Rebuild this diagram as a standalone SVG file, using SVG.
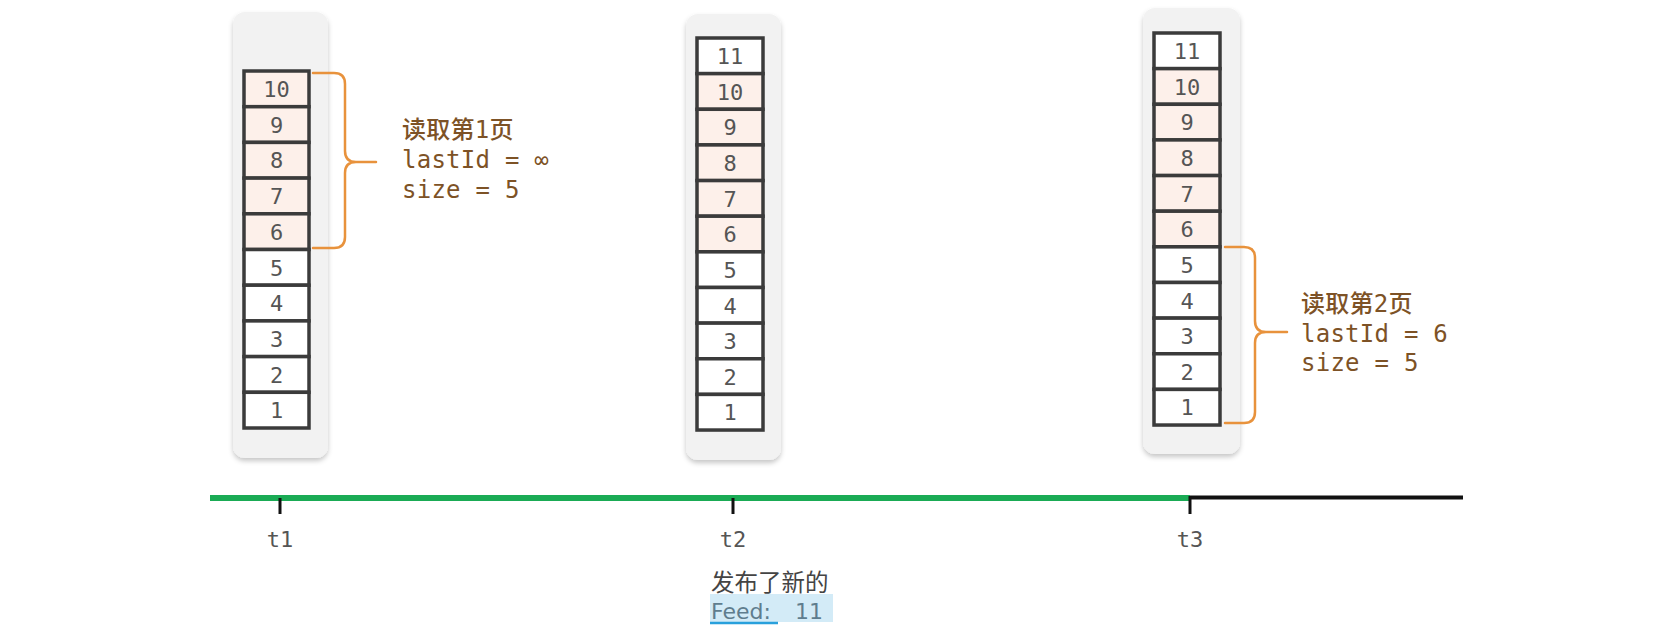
<svg xmlns="http://www.w3.org/2000/svg" width="1676" height="640" viewBox="0 0 1676 640">
<style>
.panel{fill:#f2f2f2;filter:url(#sh)}
.cell{fill:#ffffff;stroke:#3b3b3b;stroke-width:3.5}
.cell.hl{fill:#fdf0ea}
.num{font-family:"DejaVu Sans Mono",monospace;font-size:22px;fill:#555;text-anchor:middle}
.brace{fill:none;stroke:#e8923c;stroke-width:2.5;stroke-linecap:round;stroke-linejoin:round}
.lbl{font-family:"DejaVu Sans Mono","Noto Sans CJK SC",monospace;font-size:24px;fill:#7d5226;letter-spacing:0.25px}
.cjk{font-weight:500}
.tl{font-family:"DejaVu Sans Mono",monospace;font-size:22px;fill:#555;text-anchor:middle}
.tick{stroke:#111;stroke-width:3}
</style>
<defs>
<filter id="sh" x="-20%" y="-10%" width="140%" height="120%">
<feDropShadow dx="0" dy="3" stdDeviation="2.5" flood-color="#000" flood-opacity="0.22"/>
</filter>
</defs>
<rect width="1676" height="640" fill="#ffffff"/>

<g id="panel-t1">
<rect class="panel" x="233" y="12" width="95" height="446" rx="12"/>
<g id="p1-c10"><rect class="cell hl" x="244" y="71" width="65" height="35.7"/><text class="num" x="276.5" y="97">10</text></g>
<g id="p1-c9"><rect class="cell hl" x="244" y="106.7" width="65" height="35.7"/><text class="num" x="276.5" y="132.7">9</text></g>
<g id="p1-c8"><rect class="cell hl" x="244" y="142.4" width="65" height="35.7"/><text class="num" x="276.5" y="168.4">8</text></g>
<g id="p1-c7"><rect class="cell hl" x="244" y="178.1" width="65" height="35.7"/><text class="num" x="276.5" y="204.1">7</text></g>
<g id="p1-c6"><rect class="cell hl" x="244" y="213.8" width="65" height="35.7"/><text class="num" x="276.5" y="239.8">6</text></g>
<g id="p1-c5"><rect class="cell" x="244" y="249.5" width="65" height="35.7"/><text class="num" x="276.5" y="275.5">5</text></g>
<g id="p1-c4"><rect class="cell" x="244" y="285.2" width="65" height="35.7"/><text class="num" x="276.5" y="311.2">4</text></g>
<g id="p1-c3"><rect class="cell" x="244" y="320.9" width="65" height="35.7"/><text class="num" x="276.5" y="346.9">3</text></g>
<g id="p1-c2"><rect class="cell" x="244" y="356.6" width="65" height="35.7"/><text class="num" x="276.5" y="382.6">2</text></g>
<g id="p1-c1"><rect class="cell" x="244" y="392.3" width="65" height="35.7"/><text class="num" x="276.5" y="418.3">1</text></g>
</g>

<g id="panel-t2">
<rect class="panel" x="686" y="14" width="95" height="446" rx="12"/>
<g id="p2-c11"><rect class="cell" x="697" y="38" width="66" height="35.64"/><text class="num" x="730" y="64">11</text></g>
<g id="p2-c10"><rect class="cell hl" x="697" y="73.64" width="66" height="35.64"/><text class="num" x="730" y="99.6">10</text></g>
<g id="p2-c9"><rect class="cell hl" x="697" y="109.28" width="66" height="35.64"/><text class="num" x="730" y="135.3">9</text></g>
<g id="p2-c8"><rect class="cell hl" x="697" y="144.92" width="66" height="35.64"/><text class="num" x="730" y="170.9">8</text></g>
<g id="p2-c7"><rect class="cell hl" x="697" y="180.56" width="66" height="35.64"/><text class="num" x="730" y="206.6">7</text></g>
<g id="p2-c6"><rect class="cell hl" x="697" y="216.2" width="66" height="35.64"/><text class="num" x="730" y="242.2">6</text></g>
<g id="p2-c5"><rect class="cell" x="697" y="251.84" width="66" height="35.64"/><text class="num" x="730" y="277.8">5</text></g>
<g id="p2-c4"><rect class="cell" x="697" y="287.48" width="66" height="35.64"/><text class="num" x="730" y="313.5">4</text></g>
<g id="p2-c3"><rect class="cell" x="697" y="323.12" width="66" height="35.64"/><text class="num" x="730" y="349.1">3</text></g>
<g id="p2-c2"><rect class="cell" x="697" y="358.76" width="66" height="35.64"/><text class="num" x="730" y="384.8">2</text></g>
<g id="p2-c1"><rect class="cell" x="697" y="394.4" width="66" height="35.64"/><text class="num" x="730" y="420.4">1</text></g>
</g>

<g id="panel-t3">
<rect class="panel" x="1143" y="8" width="97" height="446" rx="12"/>
<g id="p3-c11"><rect class="cell" x="1154" y="33" width="66" height="35.64"/><text class="num" x="1187" y="59">11</text></g>
<g id="p3-c10"><rect class="cell hl" x="1154" y="68.64" width="66" height="35.64"/><text class="num" x="1187" y="94.6">10</text></g>
<g id="p3-c9"><rect class="cell hl" x="1154" y="104.28" width="66" height="35.64"/><text class="num" x="1187" y="130.3">9</text></g>
<g id="p3-c8"><rect class="cell hl" x="1154" y="139.92" width="66" height="35.64"/><text class="num" x="1187" y="165.9">8</text></g>
<g id="p3-c7"><rect class="cell hl" x="1154" y="175.56" width="66" height="35.64"/><text class="num" x="1187" y="201.6">7</text></g>
<g id="p3-c6"><rect class="cell hl" x="1154" y="211.2" width="66" height="35.64"/><text class="num" x="1187" y="237.2">6</text></g>
<g id="p3-c5"><rect class="cell" x="1154" y="246.84" width="66" height="35.64"/><text class="num" x="1187" y="272.8">5</text></g>
<g id="p3-c4"><rect class="cell" x="1154" y="282.48" width="66" height="35.64"/><text class="num" x="1187" y="308.5">4</text></g>
<g id="p3-c3"><rect class="cell" x="1154" y="318.12" width="66" height="35.64"/><text class="num" x="1187" y="344.1">3</text></g>
<g id="p3-c2"><rect class="cell" x="1154" y="353.76" width="66" height="35.64"/><text class="num" x="1187" y="379.8">2</text></g>
<g id="p3-c1"><rect class="cell" x="1154" y="389.4" width="66" height="35.64"/><text class="num" x="1187" y="415.4">1</text></g>
</g>

<g id="connectors">
<path class="brace" d="M313,73 H334 Q345,73 345,84 V151 Q345,162 356,162 H376 M356,162 Q345,162 345,173 V237 Q345,248 334,248 H313"/>
<path class="brace" d="M1225,247 H1244 Q1255,247 1255,258 V321 Q1255,332 1266,332 H1287 M1266,332 Q1255,332 1255,343 V412 Q1255,423 1244,423 H1225"/>
</g>

<g id="label-page1">
<text class="lbl cjk" x="402" y="138">读取第1页</text>
<text class="lbl" x="402" y="168">lastId = ∞</text>
<text class="lbl" x="402" y="198">size = 5</text>
</g>
<g id="label-page2">
<text class="lbl cjk" x="1301" y="312">读取第2页</text>
<text class="lbl" x="1301" y="342">lastId = 6</text>
<text class="lbl" x="1301" y="371">size = 5</text>
</g>

<g id="timeline">
<line x1="210" y1="498" x2="1190" y2="498" stroke="#1aab55" stroke-width="6"/>
<line x1="1190" y1="497.5" x2="1463" y2="497.5" stroke="#111" stroke-width="4"/>
<line class="tick" x1="280" y1="498" x2="280" y2="514"/>
<line class="tick" x1="733" y1="498" x2="733" y2="514"/>
<line class="tick" x1="1190" y1="496" x2="1190" y2="514"/>
<text class="tl" x="280" y="547">t1</text>
<text class="tl" x="733" y="547">t2</text>
<text class="tl" x="1190" y="547">t3</text>
</g>

<g id="note-t2">
<rect x="710" y="594" width="123" height="28" fill="#d3ebf7"/>
<text x="711" y="591" font-family="'Noto Sans CJK SC',sans-serif" font-size="23.5" fill="#444">发布了新的</text>
<text x="711" y="619" font-family="'DejaVu Sans',sans-serif" font-size="22" fill="#5f7d8e">Feed:<tspan x="795"> </tspan><tspan x="795">11</tspan></text>
<line x1="710" y1="623" x2="778" y2="623" stroke="#29a0dc" stroke-width="2.5"/>
</g>
</svg>
